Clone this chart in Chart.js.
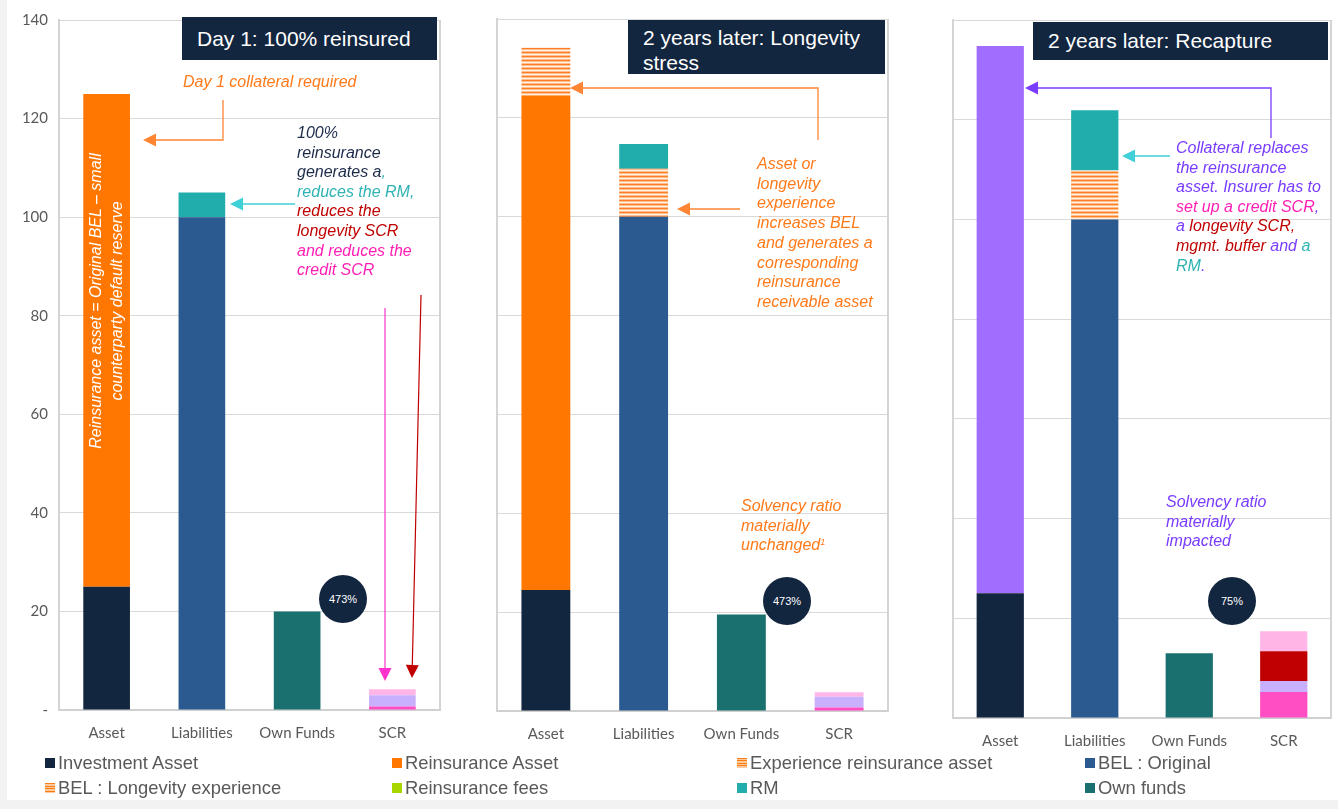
<!DOCTYPE html>
<html><head><meta charset="utf-8">
<script src="https://cdn.jsdelivr.net/npm/chart.js@4.4.1/dist/chart.umd.min.js"></script>
<style>
html,body{margin:0;padding:0;background:#f2f2f2;width:1338px;height:809px;overflow:hidden;font-family:"Liberation Sans",Arial,sans-serif;}
#frame{position:absolute;left:7px;top:0;width:1331px;height:800px;background:#fff;}
canvas{position:absolute;}
.t{position:absolute;font-style:italic;font-size:16px;line-height:19.6px;white-space:pre;}
.title{position:absolute;background:#13263f;color:#fff;font-size:21px;padding-left:15px;box-sizing:border-box;white-space:pre;}
.circ{position:absolute;width:48px;height:48px;border-radius:50%;background:#13263f;color:#fff;font-size:11px;line-height:48px;text-align:center;}
.lg{position:absolute;font-size:18.4px;color:#595959;line-height:22px;white-space:nowrap;}
.lg i{display:inline-block;width:10px;height:10px;margin-right:3px;vertical-align:1px;}
svg{position:absolute;left:0;top:0;}
</style></head>
<body>
<div id="frame"></div>
<canvas id="c1" width="445" height="750" style="left:0;top:0;width:445px;height:750px"></canvas>
<canvas id="c2" width="405" height="750" style="left:490px;top:0;width:405px;height:750px"></canvas>
<canvas id="c3" width="393" height="760" style="left:945px;top:0;width:393px;height:760px"></canvas>
<div id="overlay"></div>
<script>
// ---------- data ----------
const categories = ["Asset", "Liabilities", "Own Funds", "SCR"];
const panelTitles = ["Day 1: 100% reinsured", "2 years later: Longevity\nstress", "2 years later: Recapture"];
const solvencyRatios = ["473%", "473%", "75%"];
const yMin = 0, yMax = 140, yStep = 20;

const seriesLabels = ["Investment Asset", "Reinsurance Asset", "Experience reinsurance asset", "Collateral",
  "BEL : Original", "BEL : Longevity experience", "Reinsurance fees", "RM", "Own funds",
  "Credit SCR", "Other SCR", "Longevity SCR", "Mgmt. buffer"];
const legendOrder = ["Investment Asset", "Reinsurance Asset", "Experience reinsurance asset", "BEL : Original",
  "BEL : Longevity experience", "Reinsurance fees", "RM", "Own funds"];

// Day 1: 100% reinsured
const d1InvestmentAsset   = [25, null, null, null];
const d1ReinsuranceAsset  = [100, null, null, null];
const d1ExperienceAsset   = [null, null, null, null];
const d1Collateral        = [null, null, null, null];
const d1BelOriginal       = [null, 100, null, null];
const d1BelLongevity      = [null, null, null, null];
const d1ReinsuranceFees   = [null, null, null, null];
const d1RM                = [null, 5, null, null];
const d1OwnFunds          = [null, null, 20, null];
const d1CreditSCR         = [null, null, null, 0.7];
const d1OtherSCR          = [null, null, null, 2.3];
const d1LongevitySCR      = [null, null, null, null];
const d1MgmtBuffer        = [null, null, null, 1.2];

// 2 years later: Longevity stress
const d2InvestmentAsset   = [24.5, null, null, null];
const d2ReinsuranceAsset  = [100, null, null, null];
const d2ExperienceAsset   = [9.7, null, null, null];
const d2Collateral        = [null, null, null, null];
const d2BelOriginal       = [null, 100, null, null];
const d2BelLongevity      = [null, 9.7, null, null];
const d2ReinsuranceFees   = [null, null, null, null];
const d2RM                = [null, 5, null, null];
const d2OwnFunds          = [null, null, 19.5, null];
const d2CreditSCR         = [null, null, null, 0.7];
const d2OtherSCR          = [null, null, null, 2.2];
const d2LongevitySCR      = [null, null, null, null];
const d2MgmtBuffer        = [null, null, null, 0.9];

// 2 years later: Recapture
const d3InvestmentAsset   = [25, null, null, null];
const d3ReinsuranceAsset  = [null, null, null, null];
const d3ExperienceAsset   = [null, null, null, null];
const d3Collateral        = [109.8, null, null, null];
const d3BelOriginal       = [null, 100, null, null];
const d3BelLongevity      = [null, 9.8, null, null];
const d3ReinsuranceFees   = [null, null, null, null];
const d3RM                = [null, 12.1, null, null];
const d3OwnFunds          = [null, null, 13, null];
const d3CreditSCR         = [null, null, null, 5.2];
const d3OtherSCR          = [null, null, null, 2.2];
const d3LongevitySCR      = [null, null, null, 6.0];
const d3MgmtBuffer        = [null, null, null, 4.0];

// ---------- styles ----------
function makeHatch(){
  const c = document.createElement('canvas'); c.width = 4; c.height = 4;
  const x = c.getContext('2d');
  const rows = ['#ff8020', '#ffbf90', '#fff1e6', '#ffbf90'];
  rows.forEach((col, i) => { x.fillStyle = col; x.fillRect(0, i, 4, 1); });
  return x.createPattern(c, 'repeat');
}
const hatch = makeHatch();
const seriesColors = ['#13263f', '#ff7700', hatch, '#a06dff', '#2b5a91', hatch, '#a8d600', '#22adad', '#19706f',
  '#ff4dc3', '#c8b0ff', '#c00000', '#ffb6e6'];
const hatchCss = 'repeating-linear-gradient(#ff7d10 0 1px,#ffc9a0 1px 2.5px)';
const legendSwatch = {
  "Investment Asset": '#13263f', "Reinsurance Asset": '#ff7700',
  "Experience reinsurance asset": hatchCss, "BEL : Original": '#2b5a91',
  "BEL : Longevity experience": hatchCss,
  "Reinsurance fees": '#a8d600', "RM": '#22adad', "Own funds": '#19706f'
};

const panels = [
  [d1InvestmentAsset, d1ReinsuranceAsset, d1ExperienceAsset, d1Collateral, d1BelOriginal, d1BelLongevity, d1ReinsuranceFees, d1RM, d1OwnFunds, d1CreditSCR, d1OtherSCR, d1LongevitySCR, d1MgmtBuffer],
  [d2InvestmentAsset, d2ReinsuranceAsset, d2ExperienceAsset, d2Collateral, d2BelOriginal, d2BelLongevity, d2ReinsuranceFees, d2RM, d2OwnFunds, d2CreditSCR, d2OtherSCR, d2LongevitySCR, d2MgmtBuffer],
  [d3InvestmentAsset, d3ReinsuranceAsset, d3ExperienceAsset, d3Collateral, d3BelOriginal, d3BelLongevity, d3ReinsuranceFees, d3RM, d3OwnFunds, d3CreditSCR, d3OtherSCR, d3LongevitySCR, d3MgmtBuffer]
];

const boxPlugin = {
  id: 'box',
  afterDraw(chart){
    const a = chart.chartArea, ctx = chart.ctx;
    ctx.save(); ctx.strokeStyle = '#d4d4d4'; ctx.lineWidth = 2;
    ctx.beginPath(); ctx.moveTo(a.right, a.top); ctx.lineTo(a.right, a.bottom); ctx.stroke();
    ctx.restore();
  }
};

const layouts = [
  {id: 'c1', yWidth: 59, xHeight: 40, pad: {top: 15, right: 5}, showY: true, barPct: 0.49},
  {id: 'c2', yWidth: 7, xHeight: 39, pad: {top: 19, right: 7}, showY: false, barPct: 0.5},
  {id: 'c3', yWidth: 8, xHeight: 42, pad: {top: 20, right: 7}, showY: false, barPct: 0.5}
];

panels.forEach((series, p) => {
  const L = layouts[p];
  new Chart(document.getElementById(L.id), {
    type: 'bar',
    data: {
      labels: categories,
      datasets: series.map((d, i) => ({
        label: seriesLabels[i], data: d, backgroundColor: seriesColors[i], borderWidth: 0,
        categoryPercentage: 1, barPercentage: L.barPct
      }))
    },
    plugins: [boxPlugin],
    options: {
      responsive: false, animation: false, devicePixelRatio: 1,
      layout: {padding: {top: L.pad.top, right: L.pad.right, left: 0, bottom: 0}},
      plugins: {legend: {display: false}, tooltip: {enabled: false}},
      scales: {
        x: {
          stacked: true,
          grid: {display: false, drawTicks: false},
          border: {display: true, color: '#d0d0d0', width: 2},
          ticks: {color: '#595959', font: {family: 'Lato', size: 15}, padding: 14},
          afterFit(s){ s.height = L.xHeight; }
        },
        y: {
          stacked: true, min: yMin, max: yMax,
          grid: {color: '#d9d9d9', drawTicks: false, lineWidth: 1},
          border: {display: true, color: '#d4d4d4', width: 2},
          ticks: {display: L.showY, stepSize: yStep, color: '#595959', font: {family: 'Lato', size: 15}, padding: 11,
                  callback: v => v === 0 ? '-' : v},
          afterFit(s){ s.width = L.yWidth; }
        }
      }
    }
  });
});

// ---------- overlay: titles, annotations, arrows, legend ----------
const ov = document.getElementById('overlay');
function add(html){ ov.insertAdjacentHTML('beforeend', html); }

add(`<div class="title" style="left:182px;top:17px;width:255px;height:43px;line-height:43px">${panelTitles[0]}</div>`);
add(`<div class="title" style="left:628px;top:20px;width:257px;height:54px;line-height:25px;padding-top:5px">${panelTitles[1]}</div>`);
add(`<div class="title" style="left:1033px;top:22px;width:295px;height:38px;line-height:38px">${panelTitles[2]}</div>`);

add(`<div class="circ" style="left:319px;top:575px">${solvencyRatios[0]}</div>`);
add(`<div class="circ" style="left:763px;top:577px">${solvencyRatios[1]}</div>`);
add(`<div class="circ" style="left:1208px;top:577px">${solvencyRatios[2]}</div>`);

const OR = '#ff7a1a', NAVY = '#1c2b4a', TEAL = '#2fb3b3', RED = '#c00000', MAG = '#ff1fb4', PUR = '#7a3cff';
add(`<div class="t" style="left:183px;top:72px;color:${OR}">Day 1 collateral required</div>`);
add(`<div class="t" style="left:60px;top:280px;width:300px;text-align:center;color:#fff;line-height:21px;transform:translate(-104px,0) rotate(-90deg);transform-origin:150px 21px;">Reinsurance asset = Original BEL – small
counterparty default reserve</div>`);
add(`<div class="t" style="left:297px;top:123px"><span style="color:${NAVY}">100%
reinsurance
generates a</span><span style="color:${TEAL}">,
reduces the RM,</span>
<span style="color:${RED}">reduces the
longevity SCR</span>
<span style="color:${MAG}">and reduces the
credit SCR</span></div>`);
add(`<div class="t" style="left:757px;top:154px;line-height:19.7px;color:${OR}">Asset or
longevity
experience
increases BEL
and generates a
corresponding
reinsurance
receivable asset</div>`);
add(`<div class="t" style="left:741px;top:496px;color:${OR}">Solvency ratio
materially
unchanged<sup style="font-size:9px;vertical-align:5px;line-height:0">1</sup></div>`);
add(`<div class="t" style="left:1176px;top:138px;color:${PUR}">Collateral replaces
the reinsurance
asset. Insurer has to
<span style="color:${MAG}">set up a credit SCR</span>,
a <span style="color:${RED}">longevity SCR,</span>
<span style="color:${RED}">mgmt. buffer</span> and <span style="color:${TEAL}">a
RM</span>.</div>`);
add(`<div class="t" style="left:1166px;top:492px;color:${PUR}">Solvency ratio
materially
impacted</div>`);

function arrow(pts, color, w){
  const n = pts.length, tip = pts[n-1], prev = pts[n-2];
  const dx = tip[0]-prev[0], dy = tip[1]-prev[1], len = Math.hypot(dx, dy);
  const ux = dx/len, uy = dy/len, hl = 13, hw = 6.5;
  const bx = tip[0]-ux*hl, by = tip[1]-uy*hl;
  const line = pts.slice(0, n-1).concat([[bx, by]]).map(p => p.join(',')).join(' ');
  const tri = [[tip[0], tip[1]], [bx - uy*hw, by + ux*hw], [bx + uy*hw, by - ux*hw]].map(p => p.join(',')).join(' ');
  return `<polyline points="${line}" fill="none" stroke="${color}" stroke-width="${w}"/><polygon points="${tri}" fill="${color}"/>`;
}
add(`<svg width="1338" height="809">
${arrow([[223,100],[223,140],[143,140]], '#ff8533', 1.3)}
${arrow([[295,204],[230,204]], '#40d0d8', 1.3)}
${arrow([[385,308],[385,681]], '#ff33cc', 1.2)}
${arrow([[421,295],[412,678]], '#c00000', 1.2)}
${arrow([[818,140],[818,88],[570,88]], '#ff8533', 1.3)}
${arrow([[740,209],[677,209]], '#ff8533', 1.3)}
${arrow([[1271,138],[1271,88],[1025,88]], '#7a3cff', 1.3)}
${arrow([[1170,156],[1122,156]], '#40d0d8', 1.3)}
</svg>`);

const legCols = [45, 392, 737, 1085], legRows = [752, 777];
legendOrder.forEach((name, i) => {
  const col = i % 4, row = Math.floor(i / 4);
  add(`<div class="lg" style="left:${legCols[col]}px;top:${legRows[row]}px"><i style="background:${legendSwatch[name]}"></i>${name}</div>`);
});
</script>
</body></html>
